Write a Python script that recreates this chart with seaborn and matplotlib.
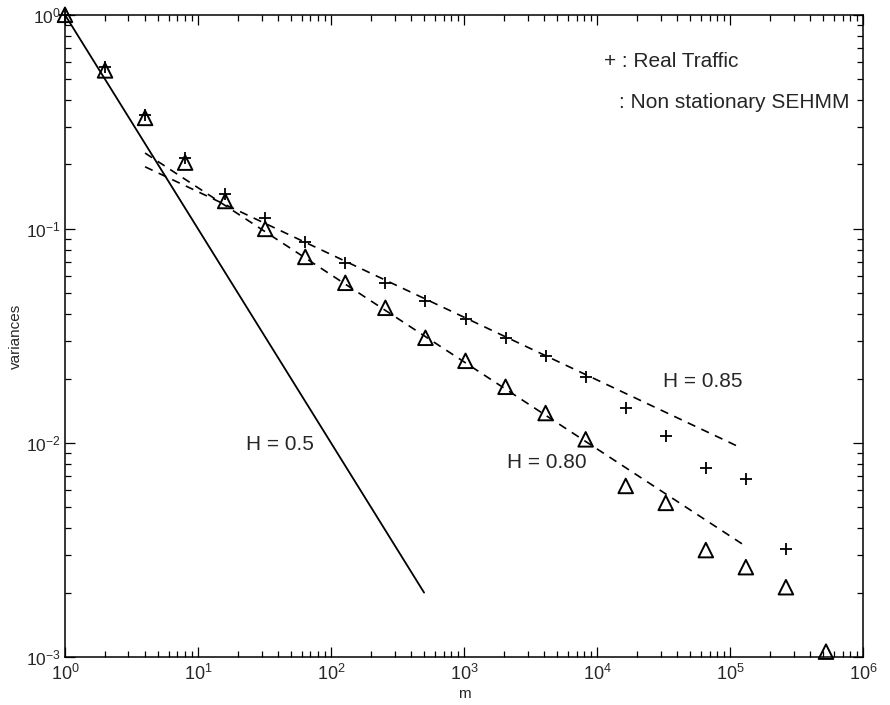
import numpy as np
import pandas as pd
import matplotlib
matplotlib.use("Agg")
import matplotlib.pyplot as plt
import seaborn as sns

# data
m = [1, 2, 4, 8, 16, 32, 64, 128, 256, 512, 1024, 2048, 4096, 8192,
     16384, 32768, 65536, 131072, 262144, 524288]

real_traffic = [1.0, 0.57, 0.34, 0.215, 0.146, 0.112, 0.087, 0.069, 0.056,
                0.046, 0.038, 0.031, 0.0255, 0.0203, 0.0146, 0.0108, 0.0076,
                0.0068, 0.0032]

sehmm = [1.0, 0.55, 0.33, 0.204, 0.135, 0.100, 0.074, 0.056, 0.0428, 0.031,
         0.0242, 0.0183, 0.0138, 0.0104, 0.0063, 0.00525, 0.00316, 0.00263,
         0.00212, 0.00106]

# reference lines (end points)
h05_m = [1, 500]
h05_v = [1.0, 0.002]
h085_m = [4, 1.2e5]
h085_v = [0.195, 0.0095]
h080_m = [4, 1.3e5]
h080_v = [0.226, 0.0033]

sns.set_theme(style="ticks")
plt.rcParams["font.family"] = ["Liberation Sans", "DejaVu Sans"]
plt.rcParams["mathtext.fontset"] = "custom"
plt.rcParams["mathtext.rm"] = "Liberation Sans"
plt.rcParams["mathtext.it"] = "Liberation Sans:italic"
plt.rcParams["mathtext.bf"] = "Liberation Sans:bold"

df_real = pd.DataFrame({"m": m[:len(real_traffic)], "v": real_traffic})
df_sehmm = pd.DataFrame({"m": m, "v": sehmm})

fig = plt.figure(figsize=(8.9, 7.05), dpi=100)
ax = fig.add_axes([0.073, 0.068, 0.897, 0.911])

ax.set_xscale("log")
ax.set_yscale("log")

# fitted lines
sns.lineplot(x=h05_m, y=h05_v, ax=ax, color="black", linewidth=1.3)
ax.plot(h085_m, h085_v, color="black", linewidth=1.2, linestyle=(0, (5, 4)))
ax.plot(h080_m, h080_v, color="black", linewidth=1.2, linestyle=(0, (5, 4)))

# markers
sns.scatterplot(data=df_real, x="m", y="v", ax=ax, marker="+", color="black",
                s=80, linewidth=1.3, zorder=3, clip_on=False)
sns.scatterplot(data=df_sehmm, x="m", y="v", ax=ax, marker="^",
                facecolor="none", edgecolor="black", s=110, linewidth=1.4,
                zorder=3, clip_on=False)

ax.set_xlim(1, 1e6)
ax.set_ylim(1e-3, 1)

ax.tick_params(which="both", direction="in", top=True, right=True,
               color="black", width=0.9)
ax.tick_params(which="major", length=7)
ax.tick_params(axis="x", which="major", labelsize=13, pad=5)
ax.tick_params(axis="y", which="major", labelsize=12.5, pad=3)
ax.tick_params(which="minor", length=4)
for s in ax.spines.values():
    s.set_linewidth(1.1)
    s.set_color("black")

ax.set_xlabel("m", fontsize=11, labelpad=2)
ax.set_ylabel("variances", fontsize=11, labelpad=2)

# annotations
ax.text(23, 0.0098, "H = 0.5", fontsize=15, ha="left", va="center")
ax.text(8400, 0.0081, "H = 0.80", fontsize=15, ha="right", va="center")
ax.text(31000, 0.0193, "H = 0.85", fontsize=15, ha="left", va="center")

ax.text(0.675, 0.927, "+ : Real Traffic", fontsize=15, ha="left",
        va="center", transform=ax.transAxes)
ax.text(0.694, 0.864, ": Non stationary SEHMM", fontsize=15, ha="left",
        va="center", transform=ax.transAxes)

fig.savefig("out.png", dpi=100, facecolor="white")
